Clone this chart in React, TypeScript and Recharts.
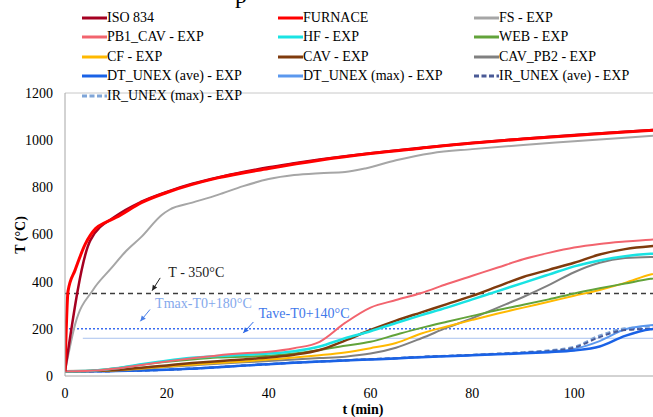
import React from "react";
import {
  Legend,
  Line,
  LineChart,
  ReferenceDot,
  ReferenceLine,
  XAxis,
  YAxis,
} from "recharts";

// time (min) and temperature (°C)
const isoTime = [0, 5, 10, 15, 20, 25, 30, 35, 40, 45, 50, 55, 60, 70, 80, 90, 100, 110, 120];
const iso834 = [20, 576, 678, 739, 781, 815, 842, 865, 885, 902, 918, 932, 945, 968, 988, 1006, 1022, 1036, 1049];

const furnaceTime = [0, 0.6, 2, 4, 6, 8, 10, 15, 20, 30, 40, 50, 60, 70, 80, 90, 100, 110, 120];
const furnace = [20, 360, 450, 560, 625, 652, 672, 735, 778, 840, 880, 915, 943, 966, 988, 1005, 1020, 1035, 1047];

const fsTime = [0, 2, 5.5, 9, 12, 15, 19, 20.5, 25, 30, 35, 40, 45, 50, 55, 59, 65, 72, 80, 90, 100, 110, 120];
const fsExp = [20, 220, 365, 455, 530, 590, 683, 705, 735, 768, 805, 835, 852, 860, 865, 880, 915, 945, 962, 980, 995, 1010, 1025];

const specTime = [0, 5, 10, 15, 20, 25, 30, 35, 40, 45, 50, 55, 60, 65, 70, 75, 80, 85, 90, 95, 100, 105, 110, 115, 120];
const pb1Cav = [20, 22, 32, 47, 62, 75, 87, 96, 103, 118, 145, 225, 290, 322, 352, 390, 425, 460, 495, 522, 545, 560, 570, 578, 582];
const hf = [20, 22, 33, 50, 65, 77, 85, 90, 95, 105, 125, 160, 190, 225, 258, 290, 325, 360, 395, 430, 465, 490, 508, 518, 522];
const web = [20, 22, 33, 48, 60, 70, 78, 82, 86, 95, 110, 128, 145, 175, 204, 230, 255, 280, 302, 325, 350, 372, 392, 412, 425];
const cf = [20, 21, 24, 32, 40, 48, 55, 62, 70, 78, 88, 100, 118, 140, 180, 210, 238, 265, 290, 315, 340, 365, 395, 430, 450];
const cav = [20, 21, 25, 35, 45, 55, 63, 70, 78, 90, 110, 150, 195, 235, 270, 305, 340, 380, 420, 450, 480, 515, 538, 550, 555];
const cavPb2 = [20, 21, 23, 30, 38, 45, 52, 58, 64, 70, 76, 82, 95, 120, 160, 205, 245, 290, 335, 385, 440, 480, 500, 505, 506];
const dtAve = [20, 20, 21, 23, 26, 31, 37, 44, 50, 56, 61, 66, 70, 74, 80, 84, 88, 92, 96, 101, 108, 125, 170, 198, 205];
const dtMax = [20, 20, 21, 23, 27, 32, 38, 45, 51, 57, 62, 67, 71, 75, 81, 85, 89, 93, 98, 104, 115, 148, 198, 215, 220];
const irAve = [20, 20, 21, 23, 26, 31, 37, 44, 50, 56, 61, 66, 71, 75, 81, 85, 89, 94, 99, 106, 120, 165, 195, 200, 203];
const irMax = [20, 20, 21, 23, 27, 32, 38, 45, 51, 57, 62, 67, 72, 76, 82, 86, 90, 95, 101, 109, 124, 172, 202, 210, 213];

const xTicks = [0, 20, 40, 60, 80, 100];
const yTicks = [0, 200, 400, 600, 800, 1000, 1200];

const limit350 = 350;
const limitMax = 200;
const limitAve = 160;

type Series = {
  name: string;
  time: number[];
  values: number[];
  color: string;
  width: number;
  dash?: string;
};

const legendSeries: Series[] = [
  { name: "ISO 834", time: isoTime, values: iso834, color: "#a50021", width: 2.5 },
  { name: "FURNACE", time: furnaceTime, values: furnace, color: "#ff0000", width: 3 },
  { name: "FS - EXP", time: fsTime, values: fsExp, color: "#a6a6a6", width: 2 },
  { name: "PB1_CAV - EXP", time: specTime, values: pb1Cav, color: "#f2646e", width: 2 },
  { name: "HF - EXP", time: specTime, values: hf, color: "#19e3e3", width: 2.5 },
  { name: "WEB - EXP", time: specTime, values: web, color: "#62a33a", width: 2 },
  { name: "CF - EXP", time: specTime, values: cf, color: "#ffb900", width: 2 },
  { name: "CAV - EXP", time: specTime, values: cav, color: "#7f3b0d", width: 2.5 },
  { name: "CAV_PB2 - EXP", time: specTime, values: cavPb2, color: "#808080", width: 2 },
  { name: "DT_UNEX (ave) - EXP", time: specTime, values: dtAve, color: "#1a62e6", width: 2.5 },
  { name: "DT_UNEX (max) - EXP", time: specTime, values: dtMax, color: "#5b98ee", width: 2 },
  { name: "IR_UNEX (ave) - EXP", time: specTime, values: irAve, color: "#4a5a96", width: 2, dash: "5 3" },
  { name: "IR_UNEX (max) - EXP", time: specTime, values: irMax, color: "#7fa5d8", width: 2, dash: "5 3" },
];

// drawing order: specimen curves first, fire curves on top
const drawOrder = [
  "IR_UNEX (max) - EXP",
  "DT_UNEX (max) - EXP",
  "IR_UNEX (ave) - EXP",
  "DT_UNEX (ave) - EXP",
  "CAV_PB2 - EXP",
  "CF - EXP",
  "WEB - EXP",
  "CAV - EXP",
  "HF - EXP",
  "PB1_CAV - EXP",
  "FS - EXP",
  "ISO 834",
  "FURNACE",
];

const font =
  '"Liberation Serif", "Times New Roman", Times, Tinos, "Nimbus Roman", "Noto Serif", "DejaVu Serif", serif';

function toPoints(time: number[], values: number[]) {
  return time.map((t, i) => ({ t, v: values[i] }));
}

function renderLegend() {
  const colX = [82, 278, 474];
  const rowY = [18, 37, 57, 76, 96];
  return (
    <div style={{ position: "relative", width: 653, height: 110 }}>
      {legendSeries.map((s, i) => {
        const left = colX[i % 3];
        const top = rowY[Math.floor(i / 3)];
        return (
          <div
            key={s.name}
            style={{
              position: "absolute",
              left,
              top: top - 9,
              height: 18,
              display: "flex",
              alignItems: "center",
              whiteSpace: "nowrap",
              fontFamily: font,
              fontSize: 14,
              color: "#000",
            }}
          >
            <svg width={25} height={6} style={{ display: "block" }}>
              <line
                x1={0}
                y1={3}
                x2={25}
                y2={3}
                stroke={s.color}
                strokeWidth={3}
                strokeDasharray={s.dash ? "5 2.5" : undefined}
              />
            </svg>
            <span>{s.name}</span>
          </div>
        );
      })}
    </div>
  );
}

function arrowShape(color: string) {
  return (props: any) => {
    const { x1, y1, x2, y2 } = props;
    const ang = Math.atan2(y2 - y1, x2 - x1);
    const len = 6;
    const spread = 0.45;
    const ax = x2 - len * Math.cos(ang - spread);
    const ay = y2 - len * Math.sin(ang - spread);
    const bx = x2 - len * Math.cos(ang + spread);
    const by = y2 - len * Math.sin(ang + spread);
    return (
      <g>
        <line x1={x1} y1={y1} x2={x2} y2={y2} stroke={color} strokeWidth={1} />
        <polygon points={`${x2},${y2} ${ax},${ay} ${bx},${by}`} fill={color} />
      </g>
    );
  };
}

function textShape(label: string, color: string) {
  return (props: any) => (
    <text x={props.cx} y={props.cy} fill={color} style={{ fontFamily: font, fontSize: 14 }}>
      {label}
    </text>
  );
}

export default function App() {
  const byName = Object.fromEntries(legendSeries.map((s) => [s.name, s]));
  return (
    <div
      style={{
        position: "absolute",
        left: 0,
        top: 0,
        width: 653,
        height: 417,
        overflow: "hidden",
        background: "#fff",
        fontFamily: font,
      }}
    >
      <LineChart
        width={700}
        height={417}
        margin={{ top: 93, right: 24, left: 0, bottom: 0 }}
        style={{ fontFamily: font }}
      >
        <text x={235} y={3} style={{ fontFamily: font, fontSize: 24 }} fill="#000">
          p
        </text>
        <XAxis
          type="number"
          dataKey="t"
          domain={[0, 120]}
          ticks={xTicks}
          allowDataOverflow
          height={41}
          tickLine={false}
          tickSize={0}
          tickMargin={12}
          axisLine={{ stroke: "#a6a6a6" }}
          tick={{ fill: "#000", fontSize: 14, style: { fontFamily: font } }}
          label={() => (
            <text
              x={363}
              y={409}
              textAnchor="middle"
              dominantBaseline="central"
              style={{ fontFamily: font, fontSize: 14, fontWeight: "bold" }}
              fill="#000"
            >
              t (min)
            </text>
          )}
        />
        <YAxis
          type="number"
          domain={[0, 1200]}
          ticks={yTicks}
          width={65}
          tickLine={false}
          tickSize={0}
          tickMargin={12}
          axisLine={{ stroke: "#a6a6a6" }}
          tick={{ fill: "#000", fontSize: 14, style: { fontFamily: font } }}
          label={() => (
            <text
              x={20}
              y={235}
              transform="rotate(-90 20 235)"
              textAnchor="middle"
              dominantBaseline="central"
              style={{ fontFamily: font, fontSize: 14, fontWeight: "bold" }}
              fill="#000"
            >
              T (°C)
            </text>
          )}
        />
        <ReferenceLine y={1200} stroke="#c8c8c8" strokeWidth={1} />
        <ReferenceLine
          segment={[
            { x: 3.5, y: limitAve },
            { x: 120, y: limitAve },
          ]}
          stroke="#a9c2ee"
          strokeWidth={1}
        />
        <ReferenceLine y={limitMax} stroke="#3a6cf0" strokeWidth={1.5} strokeDasharray="2 2" />
        <ReferenceLine y={limit350} stroke="#3c3c3c" strokeWidth={1.5} strokeDasharray="5 4" />

        {drawOrder.map((name) => {
          const s = byName[name];
          return (
            <Line
              key={s.name}
              data={toPoints(s.time, s.values)}
              dataKey="v"
              name={s.name}
              type="monotone"
              stroke={s.color}
              strokeWidth={s.width}
              strokeDasharray={s.dash}
              dot={false}
              activeDot={false}
              isAnimationActive={false}
            />
          );
        })}

        <ReferenceLine
          segment={[
            { x: 18.7, y: 416 },
            { x: 17.1, y: 362 },
          ]}
          shape={arrowShape("#222")}
        />
        <ReferenceLine
          segment={[
            { x: 16.7, y: 282 },
            { x: 14.8, y: 232 },
          ]}
          shape={arrowShape("#4a7fe8")}
        />
        <ReferenceLine
          segment={[
            { x: 37, y: 229 },
            { x: 35, y: 182 },
          ]}
          shape={arrowShape("#2f6ae8")}
        />
        <ReferenceDot x={20.3} y={420} r={0} shape={textShape("T - 350°C", "#222")} />
        <ReferenceDot x={17.7} y={288} r={0} shape={textShape("Tmax-T0+180°C", "#84a8ec")} />
        <ReferenceDot x={38} y={246} r={0} shape={textShape("Tave-T0+140°C", "#3f78ea")} />

        <Legend
          verticalAlign="middle"
          align="center"
          content={renderLegend}
          wrapperStyle={{ position: "absolute", top: 0, left: 0, width: 653, height: 110 }}
        />
      </LineChart>
    </div>
  );
}
